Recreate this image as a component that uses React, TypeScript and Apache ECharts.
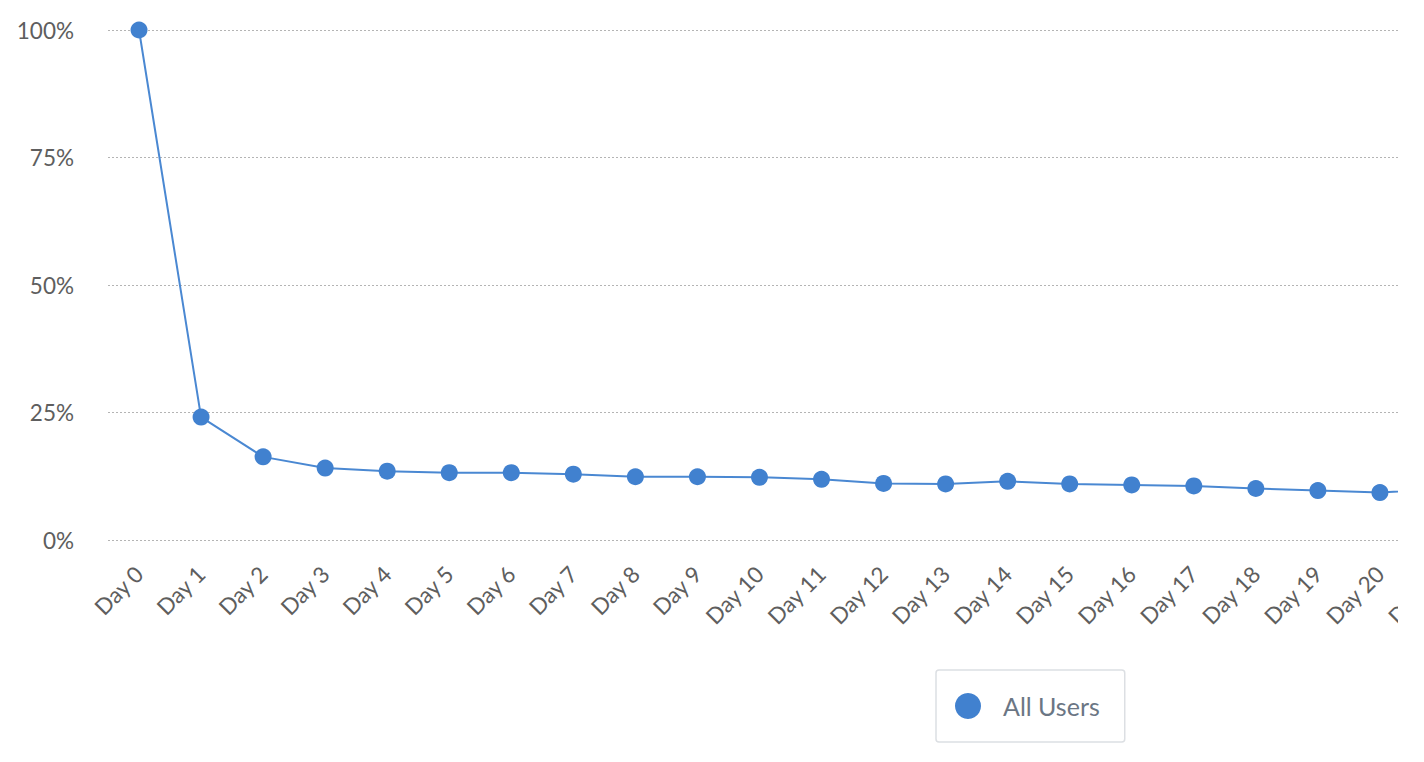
import React, { useEffect, useRef } from "react";
import * as echarts from "echarts";

const categories = [
  "Day 0", "Day 1", "Day 2", "Day 3", "Day 4", "Day 5", "Day 6", "Day 7",
  "Day 8", "Day 9", "Day 10", "Day 11", "Day 12", "Day 13", "Day 14", "Day 15",
  "Day 16", "Day 17", "Day 18", "Day 19", "Day 20", "Day 21",
];

const allUsers = [
  100, 24.1, 16.3, 14.1, 13.5, 13.2, 13.2, 12.9, 12.4, 12.4, 12.3, 11.9,
  11.1, 11.0, 11.5, 11.0, 10.8, 10.6, 10.1, 9.7, 9.3, 10.0,
];

const yTicks = { min: 0, max: 100, interval: 25 };
const seriesName = "All Users";

const FONT = "Lato, 'Open Sans', sans-serif";
const BLUE = "#4181cf";

export default function App() {
  const ref = useRef<HTMLDivElement>(null);

  useEffect(() => {
    if (!ref.current) return;
    const chart = echarts.init(ref.current, undefined, { renderer: "svg" });
    chart.setOption({
      animation: false,
      backgroundColor: "#ffffff",
      textStyle: { fontFamily: FONT },
      grid: {
        left: 108,
        right: 7,
        top: 30,
        bottom: 222,
        containLabel: false,
        outerBoundsMode: "none",
      },
      legend: {
        left: 936,
        top: 670,
        orient: "horizontal",
        padding: [23, 25, 23, 19],
        borderColor: "#dcdfe3",
        borderWidth: 1.5,
        borderRadius: 3,
        backgroundColor: "#ffffff",
        icon: "circle",
        itemWidth: 26,
        itemHeight: 26,
        textStyle: {
          fontFamily: FONT,
          fontSize: 25,
          color: "#6b7684",
          padding: [0, 0, 0, 17],
          lineHeight: 26,
        },
        data: [seriesName],
      },
      xAxis: {
        type: "category",
        data: categories,
        boundaryGap: true,
        axisLine: { show: false },
        axisTick: { show: false },
        splitLine: { show: false },
        axisLabel: {
          rotate: 45,
          interval: 0,
          margin: 30,
          fontFamily: FONT,
          fontSize: 22.5,
          color: "#5e5e5e",
        },
      },
      yAxis: {
        type: "value",
        min: yTicks.min,
        max: yTicks.max,
        interval: yTicks.interval,
        axisLine: { show: false },
        axisTick: { show: false },
        axisLabel: {
          formatter: "{value}%",
          margin: 34,
          fontFamily: FONT,
          fontSize: 22.5,
          color: "#5e5e5e",
        },
        splitLine: {
          show: true,
          lineStyle: { color: "#b4b4b4", width: 1.2, type: [2, 2] },
        },
      },
      series: [
        {
          name: seriesName,
          type: "line",
          data: allUsers,
          symbol: "circle",
          symbolSize: 17,
          showSymbol: true,
          itemStyle: { color: BLUE },
          lineStyle: { color: "#4a88d2", width: 2 },
          emphasis: { disabled: true },
        },
      ],
    });
    return () => chart.dispose();
  }, []);

  return (
    <div
      style={{
        position: "fixed",
        left: 0,
        top: 0,
        width: 1398,
        height: 762,
        overflow: "hidden",
        background: "#ffffff",
      }}
    >
      <div ref={ref} style={{ width: 1480, height: 762 }} />
    </div>
  );
}
